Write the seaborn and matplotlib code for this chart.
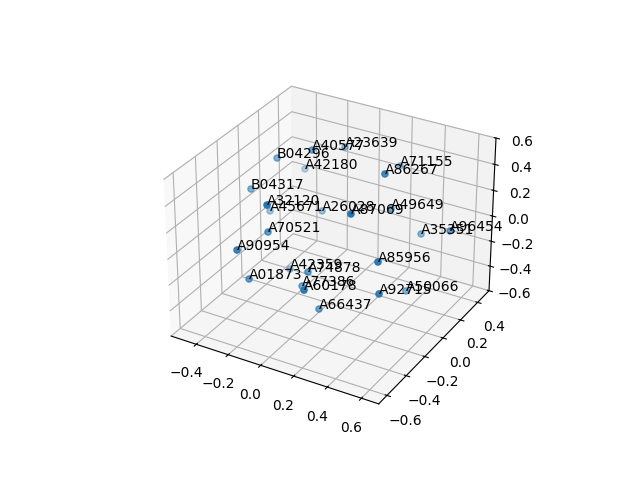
# 3D scatter of labelled samples
import matplotlib
matplotlib.use('Agg')
import matplotlib.pyplot as plt
import seaborn as sns

labels = ['B04296', 'A40577', 'A23639', 'A42180', 'B04317', 'A32120', 'A45671', 'A26028', 'A87069',
          'A70521', 'A71155', 'A86267', 'A49649', 'A35351', 'A96454', 'A90954', 'A01873', 'A42359',
          'A74878', 'A77386', 'A60178', 'A66437', 'A85956', 'A92715', 'A50066']
xs = [-0.315, -0.133, -0.079, -0.339, -0.394, -0.017, -0.379, -0.134, 0.359,
      -0.161, 0.171, 0.371, 0.307, 0.422, 0.640, -0.157, -0.185, -0.206,
      0.072, 0.001, 0.223, 0.141, 0.511, 0.530, 0.456]
ys = [-0.004, 0.052, 0.302, 0.314, -0.141, -0.569, 0.017, 0.154, -0.384,
      -0.343, 0.462, -0.063, 0.124, 0.250, 0.159, -0.639, -0.494, -0.063,
      -0.330, -0.275, -0.614, -0.335, -0.373, -0.392, 0.031]
zs = [0.433, 0.521, 0.414, 0.149, 0.252, 0.531, -0.013, -0.013, 0.482,
      0.133, 0.255, 0.580, 0.178, -0.056, 0.106, 0.193, -0.136, -0.360,
      -0.096, -0.270, 0.020, -0.354, 0.176, -0.044, -0.345]

fig = plt.figure()
ax = fig.add_subplot(projection='3d')
ax.scatter(xs, ys, zs, color=sns.color_palette('tab10')[0])
for x, y, z, label in zip(xs, ys, zs, labels):
    ax.text(x, y, z, label)

ax.set_xlim(-0.56, 0.70, view_margin=0)
ax.set_ylim(-0.684, 0.537, view_margin=0)
ax.set_zlim(-0.6, 0.6, view_margin=0)

fig.savefig('out.png', dpi=100)
